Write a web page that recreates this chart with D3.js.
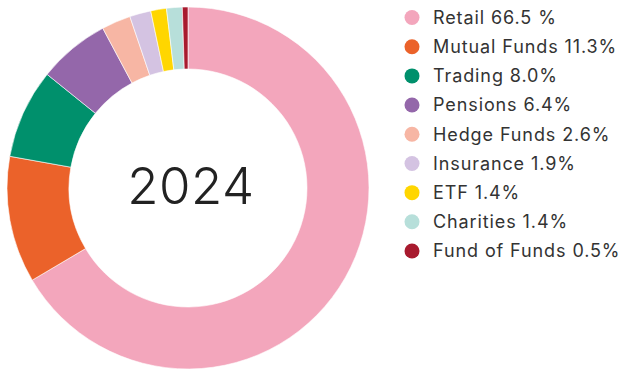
<!DOCTYPE html>
<html>
<head>
<meta charset="utf-8">
<script src="https://cdn.jsdelivr.net/npm/d3@7"></script>
<style>
  html, body { margin: 0; padding: 0; background: #fff; }
  svg { display: block; }
  text { font-family: Inter, "Noto Sans", sans-serif; }
</style>
</head>
<body>
<svg id="chart" width="622" height="369"></svg>
<script>
// Investor segments and their share of holdings (%)
const categories = ["Retail", "Mutual Funds", "Trading", "Pensions", "Hedge Funds", "Insurance", "ETF", "Charities", "Fund of Funds"];
const shares = [66.5, 11.3, 8.0, 6.4, 2.6, 1.9, 1.4, 1.4, 0.5];
const legendLabels = ["Retail 66.5 %", "Mutual Funds 11.3%", "Trading 8.0%", "Pensions 6.4%", "Hedge Funds 2.6%", "Insurance 1.9%", "ETF 1.4%", "Charities 1.4%", "Fund of Funds 0.5%"];
const colors = ["#F3A6BC", "#EB622A", "#00906C", "#9467AA", "#F7B6A4", "#D4C3E2", "#FFD600", "#B7DFDA", "#A81A2E"];
const centerLabel = "2024";

const svg = d3.select("#chart");
const cx = 188, cy = 188, outerR = 181, innerR = 119;

const color = d3.scaleOrdinal().domain(categories).range(colors);
const data = categories.map((c, i) => ({ name: c, value: shares[i] }));

const pie = d3.pie().value(d => d.value).sort(null);
const arc = d3.arc().innerRadius(innerR).outerRadius(outerR);

const g = svg.append("g").attr("transform", `translate(${cx},${cy})`);
g.selectAll("path")
  .data(pie(data))
  .join("path")
  .attr("d", arc)
  .attr("fill", d => color(d.data.name))
  .attr("stroke", "#fff")
  .attr("stroke-width", 0.6);

g.append("text")
  .attr("text-anchor", "middle")
  .attr("dy", "0.35em")
  .attr("x", 3)
  .attr("y", -2)
  .attr("font-size", 51)
  .attr("font-weight", 300)
  .attr("letter-spacing", 0.5)
  .attr("fill", "#222")
  .text(centerLabel);

// Legend
const legendY = d3.scalePoint().domain(categories).range([17.5, 251]);
const legend = svg.append("g");
const rows = legend.selectAll("g")
  .data(categories)
  .join("g")
  .attr("transform", d => `translate(0,${legendY(d)})`);
rows.append("circle")
  .attr("cx", 412)
  .attr("r", 7.5)
  .attr("fill", d => color(d));
rows.append("text")
  .attr("x", 433)
  .attr("dy", "0.35em")
  .attr("font-size", 18)
  .attr("letter-spacing", 0.9)
  .attr("fill", "#333")
  .text((d, i) => legendLabels[i]);
</script>
</body>
</html>
